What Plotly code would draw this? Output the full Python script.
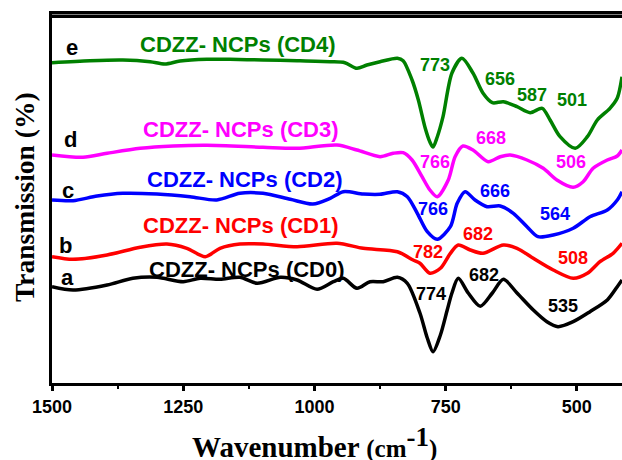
import plotly.graph_objects as go

# ---- data (wavenumber cm^-1, transmission a.u., offset stacked) ----
wn_e = [1500, 1428, 1365, 1313, 1285, 1256, 1205, 1161, 1098, 1033, 970, 942, 919, 900, 875, 842, 831, 814, 802, 789, 780, 774, 766, 755, 738, 719, 698, 679, 661, 640, 614, 589, 566, 551, 532, 503, 480, 461, 437, 423, 414]
t_e = [320.3, 322.3, 323, 321.3, 319, 322, 323.7, 323.7, 323, 322.3, 321.3, 320.3, 314.7, 318, 321.3, 324.7, 322.3, 303, 283, 255, 241, 236, 246, 266.3, 310, 324.7, 310, 290, 280.3, 281.3, 276.3, 270.3, 274.7, 263, 246.3, 234.7, 246.3, 263, 274.7, 285, 306.3]

wn_d = [1500, 1441, 1395, 1332, 1269, 1205, 1098, 1033, 957, 919, 875, 850, 831, 814, 795, 780, 766, 745, 732, 717, 698, 669, 646, 627, 595, 564, 538, 507, 488, 469, 442, 423, 414]
t_d = [228, 225.7, 229.7, 234.7, 237, 237.7, 235.7, 234.7, 238, 233, 226.3, 229.7, 230.3, 223, 206.3, 193, 186.3, 203, 226.3, 237, 233, 221.3, 226.3, 228, 223, 214.7, 203, 195.7, 201.3, 214.7, 223, 227, 233]

wn_c = [1500, 1460, 1414, 1365, 1300, 1237, 1186, 1142, 1098, 1046, 1003, 970, 945, 907, 875, 842, 823, 804, 785, 766, 741, 728, 713, 694, 671, 646, 621, 595, 574, 545, 507, 475, 442, 423, 414]
t_c = [183, 182.3, 187, 189.7, 189, 186.3, 183, 189.7, 189.7, 183.7, 179, 184.7, 191.3, 189, 188.7, 191.3, 186.3, 169.7, 151.3, 143.7, 156.3, 179.7, 191.3, 183, 176.3, 177, 169.7, 156.3, 146.3, 148, 154.7, 166.3, 173, 183, 191.3]

wn_b = [1500, 1460, 1395, 1332, 1281, 1243, 1208, 1180, 1142, 1098, 1033, 957, 907, 842, 812, 799, 780, 760, 741, 726, 703, 679, 640, 614, 583, 545, 507, 480, 456, 431, 414]
t_b = [126.3, 123.7, 128, 135.7, 139, 134.7, 126.3, 134.7, 139, 139, 136.3, 139.7, 134.7, 131.3, 123, 119.7, 109.7, 114.7, 129.7, 138, 133, 129.7, 138, 134.7, 124.7, 113, 104.7, 109.7, 121.3, 129.7, 139.7]

wn_a = [1500, 1460, 1395, 1346, 1300, 1250, 1218, 1180, 1142, 1109, 1065, 1033, 995, 964, 945, 919, 894, 869, 842, 823, 799, 785, 774, 760, 747, 738, 726, 707, 684, 661, 640, 614, 583, 557, 536, 507, 475, 442, 423, 414]
t_a = [96.3, 93, 98, 104.7, 105.7, 101.3, 104.7, 103.7, 105.7, 99.7, 105.7, 103, 93.7, 101.3, 104.7, 94.7, 101.3, 101.3, 105.7, 99.7, 70, 45, 31.3, 48, 73, 90, 104.7, 90, 76.7, 90, 103.7, 90, 73, 61.3, 56.3, 61.3, 71.3, 83, 96.3, 103]

series_names = ["CDZZ- NCPs (CD0)", "CDZZ- NCPs (CD1)", "CDZZ- NCPs (CD2)", "CDZZ- NCPs (CD3)", "CDZZ- NCPs (CD4)"]
series_letters = ["a", "b", "c", "d", "e"]
series_colors = ["#000000", "#ff0000", "#0000ff", "#ff00ff", "#008000"]
series_x = [wn_a, wn_b, wn_c, wn_d, wn_e]
series_y = [t_a, t_b, t_c, t_d, t_e]

# name label positions (data coords)
name_pos = [(1129, 113.5), (1139, 157.5), (1132, 203.5), (1140, 253.5), (1145, 339)]
letter_pos = [(1470, 106), (1475, 137.5), (1470, 193), (1464, 244), (1462, 336)]

# peak labels: (text, wn, t, series index)
peak_labels = [
    ("774", 778, 89.5, 0), ("682", 677, 108, 0), ("535", 526, 77.5, 0),
    ("782", 783, 131.5, 1), ("682", 688, 149.5, 1), ("508", 507, 125.5, 1),
    ("766", 774, 174.5, 2), ("666", 656, 192, 2), ("564", 541, 169.5, 2),
    ("766", 770, 221.5, 3), ("668", 663, 245, 3), ("506", 511, 221.5, 3),
    ("773", 770, 318, 4), ("656", 646, 304.5, 4), ("587", 585, 288, 4), ("501", 509, 283, 4),
]

x_ticks = [1500, 1250, 1000, 750, 500]

SANS = "Liberation Sans, Arial, sans-serif"
SERIF = "Liberation Serif, Times New Roman, serif"

fig = go.Figure()
for xs, ys, col, nm in zip(series_x, series_y, series_colors, series_names):
    fig.add_trace(go.Scatter(x=xs, y=ys, mode="lines", name=nm,
                             line=dict(color=col, width=3.5, shape="spline", smoothing=0.8),
                             showlegend=False, hoverinfo="skip"))

ann = []
for (x, y), nm, col in zip(name_pos, series_names, series_colors):
    ann.append(dict(x=x, y=y, text="<b>%s</b>" % nm, showarrow=False, xanchor="center", yanchor="middle",
                    font=dict(family=SANS, size=22, color=col)))
for (x, y), lt in zip(letter_pos, series_letters):
    ann.append(dict(x=x, y=y, text="<b>%s</b>" % lt, showarrow=False, xanchor="center", yanchor="middle",
                    font=dict(family=SANS, size=22, color="#000000")))
for txt, x, y, i in peak_labels:
    ann.append(dict(x=x, y=y, text="<b>%s</b>" % txt, showarrow=False, xanchor="center", yanchor="middle",
                    font=dict(family=SANS, size=18, color=series_colors[i])))
# axis titles
ann.append(dict(xref="paper", yref="paper", x=(314 - 52) / 570, y=-(442 - 383) / 369,
                xanchor="center", yanchor="middle",
                text="<b>Wavenumber </b><b><span style='font-size:25px'>(cm<sup><span style='font-size:27px'>-1</span></sup>)</span></b>",
                showarrow=False, font=dict(family=SERIF, size=29, color="#000000")))
ann.append(dict(xref="paper", yref="paper", x=(24 - 52) / 570, y=(383 - 197) / 369,
                xanchor="center", yanchor="middle", textangle=-90,
                text="<b>Transmission (%)</b>",
                showarrow=False, font=dict(family=SERIF, size=27.5, color="#000000")))

fig.update_layout(
    width=622, height=460,
    margin=dict(l=52, r=0, t=14, b=77, autoexpand=False),
    paper_bgcolor="white", plot_bgcolor="white",
    annotations=ann,
    shapes=[dict(type="line", xref="paper", yref="paper", x0=-0.004, x1=1.0, y0=0.994, y1=0.994,
                 line=dict(color="black", width=3.5), layer="above")],
    xaxis=dict(range=[1500, 414], tickmode="array", tickvals=x_ticks, ticktext=[str(v) for v in x_ticks],
               ticks="outside", ticklen=5, tickwidth=2.5, tickcolor="black",
               minor=dict(tickvals=[1375, 1125, 875, 625], ticks="outside", ticklen=3, tickwidth=2, tickcolor="black"),
               showline=True, linecolor="black", linewidth=3, mirror=True,
               showgrid=False, zeroline=False, automargin=False,
               tickfont=dict(family=SANS, size=18, color="black", weight="bold")),
    yaxis=dict(range=[0, 369], showticklabels=False, ticks="", showgrid=False, zeroline=False,
               showline=True, linecolor="black", linewidth=3, mirror=False, automargin=False),
)

fig.write_html("out.html", config={"displayModeBar": False},
               post_script="document.body.style.margin='0';document.body.style.padding='0';")
